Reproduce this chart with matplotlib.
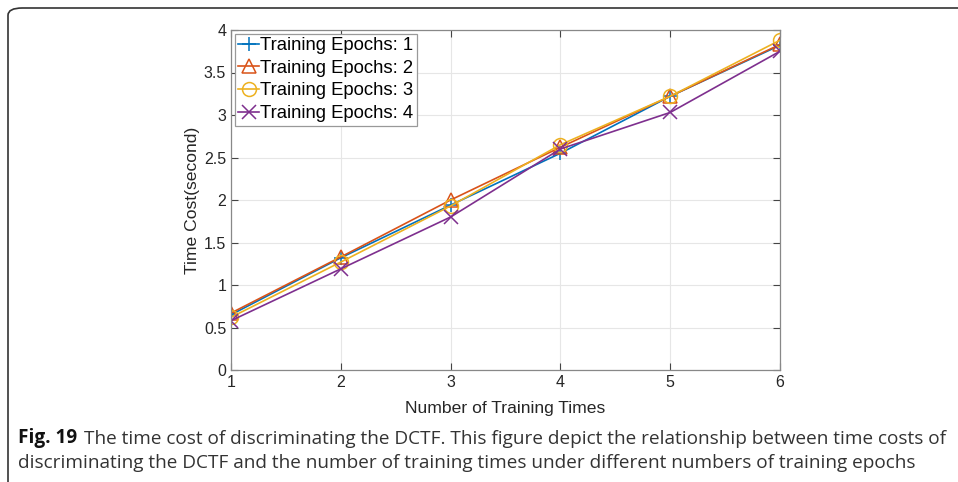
import matplotlib
matplotlib.use('Agg')
import matplotlib.pyplot as plt
from matplotlib.patches import FancyBboxPatch

# dados
training_times = [1, 2, 3, 4, 5, 6]
epochs_1 = [0.65, 1.32, 1.94, 2.55, 3.22, 3.82]
epochs_2 = [0.67, 1.33, 2.00, 2.62, 3.22, 3.83]
epochs_3 = [0.62, 1.27, 1.93, 2.65, 3.22, 3.88]
epochs_4 = [0.58, 1.19, 1.80, 2.60, 3.03, 3.75]
labels = ['Training Epochs: 1', 'Training Epochs: 2', 'Training Epochs: 3', 'Training Epochs: 4']

colors = ['#0072BD', '#D95319', '#EDB120', '#7E2F8E']
markers = ['+', '^', 'o', 'x']

plt.rcParams['font.family'] = ['Liberation Sans', 'DejaVu Sans']

fig = plt.figure(figsize=(9.58, 4.82), dpi=100)
ax = fig.add_axes([231 / 958, 1 - 370 / 482, 549 / 958, 340 / 482])

for vals, lab, c, m in zip([epochs_1, epochs_2, epochs_3, epochs_4], labels, colors, markers):
    ax.plot(training_times, vals, color=c, marker=m, markersize=10, markerfacecolor='none',
            markeredgewidth=1.1, linewidth=1.2, label=lab)

ax.set_xlim(1, 6)
ax.set_ylim(0, 4)
ax.set_xticks(training_times)
ax.set_yticks([0, 0.5, 1, 1.5, 2, 2.5, 3, 3.5, 4])
ax.set_yticklabels(['0', '0.5', '1', '1.5', '2', '2.5', '3', '3.5', '4'])
ax.grid(True, color='#e6e6e6', linewidth=0.8)
ax.set_axisbelow(True)
ax.tick_params(direction='in', top=True, right=True, labelsize=11.5, length=5,
               color='#444444', labelcolor='#262626')
for s in ax.spines.values():
    s.set_color('#888888')
    s.set_linewidth(0.9)
ax.set_xlabel('Number of Training Times', fontsize=12.6, labelpad=8, color='#262626')
ax.set_ylabel('Time Cost(second)', fontsize=12.6, labelpad=3, color='#262626')

leg = ax.legend(loc='upper left', fontsize=13.3, handlelength=1.1, handletextpad=0.05,
                borderpad=0.2, labelspacing=0.3, borderaxespad=0.2, fancybox=False,
                framealpha=1)
leg.get_frame().set_edgecolor('#999999')
leg.get_frame().set_linewidth(0.9)

# moldura arredondada
frame = FancyBboxPatch((8 / 958, -0.05), 1.2, 1.1 - 8 / 482 - 0.05,
                       boxstyle='round,pad=0,rounding_size=0.015', transform=fig.transFigure,
                       facecolor='none', edgecolor='#333333', linewidth=1.2, clip_on=False)
fig.patches.append(frame)

# legenda da figura
cap_font = ['Open Sans', 'DejaVu Sans']
t = fig.text(18 / 958, 1 - 443 / 482, 'Fig. 19', fontsize=13.7, fontweight='bold',
             family=cap_font, va='baseline', color='#111111')
ax.annotate('The time cost of discriminating the DCTF. This figure depict the relationship between time costs of',
            xy=(1, 0), xycoords=t, xytext=(5, 0), textcoords='offset points', fontsize=13.7,
            family=cap_font, va='bottom', color='#333333', annotation_clip=False)
fig.text(18 / 958, 1 - 468 / 482,
         'discriminating the DCTF and the number of training times under different numbers of training epochs',
         fontsize=13.7, family=cap_font, va='baseline', color='#333333')

fig.savefig('out.png', dpi=100)
